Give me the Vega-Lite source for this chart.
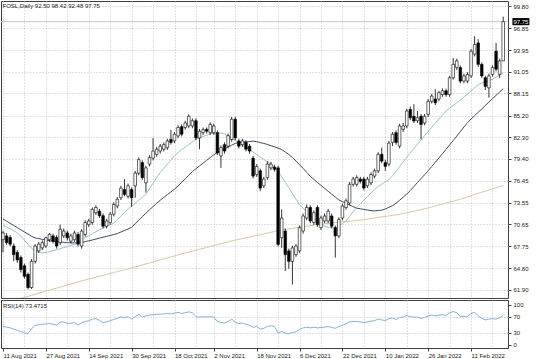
{
"$schema":"https://vega.github.io/schema/vega-lite/v6.json",
"padding":0,"spacing":0,"background":"white",
"config":{"font":"Liberation Sans","view":{"stroke":"#404040","strokeWidth":1},
"axis":{"labelFont":"Liberation Sans","labelFontSize":6,"labelColor":"#202020","tickColor":"#404040","tickSize":3,"gridColor":"#c4c4c4","gridDash":[1,2],"domain":false},
"title":{"font":"Liberation Sans","fontSize":6,"fontWeight":"normal","color":"#202020"}},
"datasets":{
"bid":[{"d":"24 Feb 2022","p":97.75,"lbl":"97.75"}],
"bars":[
{"d":"11 Aug 2021","o":68.6,"h":69.75,"l":66.9,"c":69.5,"t":70.55,"m":71.37,"b":60.12,"r":46},
{"d":"12 Aug 2021","o":69.1,"h":69.5,"l":67.9,"c":68.2,"t":70.29,"m":71.08,"b":60.25,"r":44},
{"d":"13 Aug 2021","o":68.9,"h":69.2,"l":67.7,"c":68.0,"t":70.04,"m":70.79,"b":60.37,"r":42},
{"d":"16 Aug 2021","o":67.75,"h":68.1,"l":65.7,"c":66.6,"t":69.79,"m":70.5,"b":60.5,"r":39},
{"d":"17 Aug 2021","o":66.9,"h":67.2,"l":65.5,"c":65.9,"t":69.53,"m":70.21,"b":60.63,"r":36},
{"d":"18 Aug 2021","o":66.2,"h":66.5,"l":64.2,"c":64.6,"t":69.05,"m":69.92,"b":60.76,"r":33},
{"d":"19 Aug 2021","o":65.1,"h":65.4,"l":63.4,"c":63.7,"t":68.52,"m":69.64,"b":60.88,"r":30},
{"d":"20 Aug 2021","o":63.96,"h":64.2,"l":61.95,"c":62.2,"t":67.98,"m":69.35,"b":61.02,"r":27.5},
{"d":"23 Aug 2021","o":62.2,"h":66.0,"l":62.0,"c":65.7,"t":67.44,"m":69.05,"b":61.16,"r":40},
{"d":"24 Aug 2021","o":65.7,"h":68.0,"l":65.4,"c":67.75,"t":67.05,"m":68.83,"b":61.3,"r":48},
{"d":"25 Aug 2021","o":67.1,"h":68.3,"l":66.8,"c":68.0,"t":66.95,"m":68.74,"b":61.43,"r":50},
{"d":"26 Aug 2021","o":67.5,"h":68.5,"l":67.2,"c":68.2,"t":66.86,"m":68.64,"b":61.57,"r":51},
{"d":"27 Aug 2021","o":67.75,"h":69.0,"l":67.5,"c":68.85,"t":66.88,"m":68.55,"b":61.71,"r":52},
{"d":"30 Aug 2021","o":68.6,"h":69.5,"l":68.3,"c":69.3,"t":67.0,"m":68.45,"b":61.85,"r":53},
{"d":"31 Aug 2021","o":69.1,"h":69.4,"l":68.1,"c":68.4,"t":67.13,"m":68.38,"b":61.99,"r":51},
{"d":"1 Sep 2021","o":68.9,"h":69.2,"l":67.4,"c":67.75,"t":67.26,"m":68.34,"b":62.12,"r":49},
{"d":"2 Sep 2021","o":68.2,"h":70.6,"l":67.9,"c":70.0,"t":67.39,"m":68.29,"b":62.26,"r":56},
{"d":"3 Sep 2021","o":69.1,"h":70.1,"l":68.8,"c":69.75,"t":67.54,"m":68.24,"b":62.4,"r":57},
{"d":"6 Sep 2021","o":69.5,"h":69.8,"l":68.5,"c":68.85,"t":67.68,"m":68.2,"b":62.54,"r":53},
{"d":"7 Sep 2021","o":68.4,"h":69.4,"l":68.1,"c":69.1,"t":67.83,"m":68.18,"b":62.67,"r":54},
{"d":"8 Sep 2021","o":68.6,"h":69.8,"l":68.3,"c":69.5,"t":67.99,"m":68.16,"b":62.81,"r":55},
{"d":"9 Sep 2021","o":69.3,"h":69.6,"l":67.7,"c":68.0,"t":68.15,"m":68.15,"b":62.95,"r":49},
{"d":"10 Sep 2021","o":67.75,"h":70.0,"l":67.4,"c":69.75,"t":68.55,"m":68.24,"b":63.08,"r":55},
{"d":"13 Sep 2021","o":69.3,"h":71.2,"l":69.0,"c":70.9,"t":68.9,"m":68.33,"b":63.21,"r":58},
{"d":"14 Sep 2021","o":70.6,"h":71.4,"l":70.3,"c":71.1,"t":69.15,"m":68.44,"b":63.33,"r":60},
{"d":"15 Sep 2021","o":70.9,"h":72.9,"l":70.6,"c":72.65,"t":69.4,"m":68.56,"b":63.45,"r":64},
{"d":"16 Sep 2021","o":72.2,"h":73.2,"l":71.9,"c":72.9,"t":69.66,"m":68.68,"b":63.58,"r":65},
{"d":"17 Sep 2021","o":72.4,"h":72.7,"l":71.5,"c":71.8,"t":69.91,"m":68.81,"b":63.7,"r":61},
{"d":"20 Sep 2021","o":71.8,"h":72.1,"l":70.1,"c":70.4,"t":70.14,"m":68.93,"b":63.82,"r":55},
{"d":"21 Sep 2021","o":70.4,"h":71.4,"l":70.1,"c":71.1,"t":70.36,"m":69.04,"b":63.95,"r":57},
{"d":"22 Sep 2021","o":70.9,"h":72.3,"l":70.6,"c":72.0,"t":70.59,"m":69.16,"b":64.07,"r":60},
{"d":"23 Sep 2021","o":72.0,"h":73.6,"l":71.7,"c":73.3,"t":70.81,"m":69.28,"b":64.2,"r":63},
{"d":"24 Sep 2021","o":73.1,"h":74.3,"l":72.8,"c":74.0,"t":71.26,"m":69.42,"b":64.32,"r":66},
{"d":"27 Sep 2021","o":74.2,"h":75.8,"l":73.9,"c":75.5,"t":71.74,"m":69.62,"b":64.45,"r":70},
{"d":"28 Sep 2021","o":75.3,"h":76.7,"l":74.4,"c":74.65,"t":72.23,"m":69.82,"b":64.57,"r":67},
{"d":"29 Sep 2021","o":74.4,"h":76.1,"l":74.1,"c":75.8,"t":72.67,"m":70.02,"b":64.7,"r":70},
{"d":"30 Sep 2021","o":75.3,"h":75.6,"l":73.0,"c":74.2,"t":73.07,"m":70.27,"b":64.82,"r":64},
{"d":"1 Oct 2021","o":75.8,"h":77.8,"l":74.2,"c":77.5,"t":73.47,"m":70.74,"b":64.96,"r":70},
{"d":"4 Oct 2021","o":77.5,"h":79.6,"l":77.2,"c":79.3,"t":73.88,"m":71.21,"b":65.09,"r":76},
{"d":"5 Oct 2021","o":78.9,"h":79.2,"l":76.6,"c":76.9,"t":74.28,"m":71.67,"b":65.22,"r":69},
{"d":"6 Oct 2021","o":76.2,"h":78.5,"l":74.9,"c":78.2,"t":74.69,"m":72.15,"b":65.36,"r":72},
{"d":"7 Oct 2021","o":78.7,"h":79.9,"l":78.4,"c":79.6,"t":75.42,"m":72.59,"b":65.49,"r":74},
{"d":"8 Oct 2021","o":79.5,"h":82.2,"l":79.2,"c":80.45,"t":76.16,"m":73.03,"b":65.63,"r":75},
{"d":"11 Oct 2021","o":80.0,"h":81.0,"l":79.7,"c":80.7,"t":76.88,"m":73.46,"b":65.76,"r":76},
{"d":"12 Oct 2021","o":80.45,"h":81.4,"l":80.1,"c":81.1,"t":77.56,"m":73.88,"b":65.89,"r":76},
{"d":"13 Oct 2021","o":80.7,"h":81.6,"l":80.4,"c":81.3,"t":78.13,"m":74.25,"b":66.03,"r":77},
{"d":"14 Oct 2021","o":80.9,"h":82.1,"l":80.6,"c":81.8,"t":78.7,"m":74.62,"b":66.16,"r":78},
{"d":"15 Oct 2021","o":82.0,"h":83.3,"l":81.3,"c":81.6,"t":79.25,"m":74.98,"b":66.29,"r":77},
{"d":"18 Oct 2021","o":81.8,"h":83.0,"l":81.5,"c":82.7,"t":79.81,"m":75.35,"b":66.43,"r":79},
{"d":"19 Oct 2021","o":82.46,"h":83.9,"l":82.2,"c":83.6,"t":80.26,"m":75.78,"b":66.56,"r":81},
{"d":"20 Oct 2021","o":83.7,"h":84.0,"l":82.4,"c":82.7,"t":80.62,"m":76.26,"b":66.69,"r":78},
{"d":"21 Oct 2021","o":83.6,"h":84.5,"l":83.3,"c":84.2,"t":80.97,"m":76.73,"b":66.82,"r":80},
{"d":"22 Oct 2021","o":83.8,"h":85.35,"l":83.5,"c":85.1,"t":81.33,"m":77.21,"b":66.94,"r":82},
{"d":"25 Oct 2021","o":83.8,"h":84.8,"l":83.5,"c":84.5,"t":81.69,"m":77.7,"b":67.07,"r":80},
{"d":"26 Oct 2021","o":84.5,"h":84.8,"l":81.9,"c":82.2,"t":82.04,"m":78.08,"b":67.19,"r":70},
{"d":"27 Oct 2021","o":82.2,"h":83.4,"l":80.7,"c":83.1,"t":82.22,"m":78.46,"b":67.32,"r":69},
{"d":"28 Oct 2021","o":82.9,"h":83.6,"l":82.6,"c":83.3,"t":82.39,"m":78.83,"b":67.44,"r":70},
{"d":"29 Oct 2021","o":83.35,"h":83.6,"l":82.8,"c":83.1,"t":82.56,"m":79.21,"b":67.57,"r":69},
{"d":"1 Nov 2021","o":82.9,"h":84.3,"l":82.6,"c":84.0,"t":82.73,"m":79.58,"b":67.69,"r":70},
{"d":"2 Nov 2021","o":82.9,"h":84.1,"l":82.6,"c":83.8,"t":82.86,"m":79.95,"b":67.82,"r":69},
{"d":"3 Nov 2021","o":82.9,"h":83.2,"l":79.9,"c":80.2,"t":82.86,"m":80.27,"b":67.94,"r":58},
{"d":"4 Nov 2021","o":79.8,"h":81.2,"l":78.2,"c":80.9,"t":82.86,"m":80.51,"b":68.06,"r":56},
{"d":"5 Nov 2021","o":81.3,"h":81.6,"l":80.1,"c":80.45,"t":82.74,"m":80.75,"b":68.19,"r":54},
{"d":"8 Nov 2021","o":81.1,"h":82.8,"l":80.8,"c":82.5,"t":82.44,"m":80.99,"b":68.31,"r":58},
{"d":"9 Nov 2021","o":82.0,"h":85.0,"l":81.7,"c":84.7,"t":82.15,"m":81.23,"b":68.43,"r":64},
{"d":"10 Nov 2021","o":84.7,"h":85.0,"l":81.9,"c":82.2,"t":81.86,"m":81.47,"b":68.53,"r":56},
{"d":"11 Nov 2021","o":81.8,"h":82.1,"l":80.8,"c":81.1,"t":81.55,"m":81.56,"b":68.64,"r":53},
{"d":"12 Nov 2021","o":81.3,"h":82.1,"l":81.0,"c":81.8,"t":81.23,"m":81.62,"b":68.74,"r":54},
{"d":"15 Nov 2021","o":81.6,"h":81.9,"l":80.4,"c":80.7,"t":80.92,"m":81.67,"b":68.85,"r":51},
{"d":"16 Nov 2021","o":81.1,"h":81.4,"l":80.1,"c":80.45,"t":80.61,"m":81.72,"b":68.95,"r":49},
{"d":"17 Nov 2021","o":79.5,"h":79.8,"l":76.8,"c":77.1,"t":80.3,"m":81.77,"b":69.06,"r":43},
{"d":"18 Nov 2021","o":77.3,"h":78.7,"l":77.0,"c":78.4,"t":79.98,"m":81.7,"b":69.16,"r":46},
{"d":"19 Nov 2021","o":77.8,"h":78.1,"l":75.1,"c":75.5,"t":79.65,"m":81.58,"b":69.27,"r":39},
{"d":"22 Nov 2021","o":75.8,"h":77.0,"l":75.5,"c":76.7,"t":79.32,"m":81.46,"b":69.37,"r":41},
{"d":"23 Nov 2021","o":76.9,"h":79.1,"l":76.6,"c":78.7,"t":78.98,"m":81.33,"b":69.48,"r":46},
{"d":"24 Nov 2021","o":78.2,"h":79.0,"l":77.9,"c":78.7,"t":78.65,"m":81.17,"b":69.59,"r":47},
{"d":"25 Nov 2021","o":78.3,"h":78.6,"l":77.7,"c":78.0,"t":78.31,"m":81.01,"b":69.69,"r":46},
{"d":"26 Nov 2021","o":78.2,"h":78.5,"l":67.7,"c":67.97,"t":77.75,"m":80.85,"b":69.8,"r":29},
{"d":"29 Nov 2021","o":68.85,"h":72.65,"l":67.5,"c":71.5,"t":77.01,"m":80.65,"b":69.89,"r":33},
{"d":"30 Nov 2021","o":69.75,"h":70.1,"l":64.4,"c":66.6,"t":76.26,"m":80.32,"b":69.97,"r":29},
{"d":"1 Dec 2021","o":67.1,"h":67.4,"l":64.7,"c":65.7,"t":75.54,"m":79.99,"b":70.04,"r":27},
{"d":"2 Dec 2021","o":65.7,"h":67.8,"l":62.6,"c":67.5,"t":74.77,"m":79.59,"b":70.11,"r":31},
{"d":"3 Dec 2021","o":66.6,"h":68.0,"l":66.3,"c":67.75,"t":74.01,"m":79.11,"b":70.18,"r":32},
{"d":"6 Dec 2021","o":67.1,"h":70.5,"l":66.8,"c":70.2,"t":73.28,"m":78.63,"b":70.26,"r":38},
{"d":"7 Dec 2021","o":69.75,"h":72.1,"l":69.4,"c":71.76,"t":72.81,"m":78.13,"b":70.33,"r":42},
{"d":"8 Dec 2021","o":71.5,"h":73.3,"l":71.2,"c":72.9,"t":72.33,"m":77.6,"b":70.4,"r":44},
{"d":"9 Dec 2021","o":72.9,"h":73.2,"l":70.8,"c":71.1,"t":71.85,"m":77.07,"b":70.47,"r":42},
{"d":"10 Dec 2021","o":70.9,"h":72.5,"l":70.6,"c":72.2,"t":71.42,"m":76.66,"b":70.54,"r":44},
{"d":"13 Dec 2021","o":72.9,"h":73.2,"l":70.3,"c":70.6,"t":71.08,"m":76.26,"b":70.62,"r":42},
{"d":"14 Dec 2021","o":70.2,"h":71.8,"l":69.9,"c":71.5,"t":70.75,"m":75.85,"b":70.69,"r":43},
{"d":"15 Dec 2021","o":71.1,"h":72.1,"l":70.8,"c":71.76,"t":70.42,"m":75.46,"b":70.74,"r":44},
{"d":"16 Dec 2021","o":71.1,"h":72.7,"l":70.8,"c":72.4,"t":70.26,"m":75.07,"b":70.78,"r":46},
{"d":"17 Dec 2021","o":71.76,"h":72.1,"l":70.1,"c":70.4,"t":70.21,"m":74.69,"b":70.83,"r":43},
{"d":"20 Dec 2021","o":70.2,"h":70.5,"l":66.2,"c":69.1,"t":70.16,"m":74.3,"b":70.88,"r":41},
{"d":"21 Dec 2021","o":69.1,"h":71.6,"l":68.8,"c":71.3,"t":70.42,"m":73.91,"b":70.93,"r":45},
{"d":"22 Dec 2021","o":71.5,"h":73.4,"l":71.2,"c":73.1,"t":70.75,"m":73.69,"b":70.97,"r":49},
{"d":"23 Dec 2021","o":72.9,"h":74.1,"l":72.6,"c":73.8,"t":71.09,"m":73.46,"b":71.02,"r":52},
{"d":"27 Dec 2021","o":73.5,"h":76.3,"l":73.2,"c":76.0,"t":71.72,"m":73.23,"b":71.07,"r":57},
{"d":"28 Dec 2021","o":76.0,"h":77.0,"l":75.7,"c":76.7,"t":72.34,"m":73.01,"b":71.12,"r":58},
{"d":"29 Dec 2021","o":76.0,"h":77.2,"l":75.7,"c":76.9,"t":72.92,"m":72.81,"b":71.16,"r":58},
{"d":"30 Dec 2021","o":76.7,"h":77.0,"l":76.1,"c":76.4,"t":73.41,"m":72.73,"b":71.21,"r":57},
{"d":"31 Dec 2021","o":76.7,"h":77.0,"l":75.2,"c":75.5,"t":73.89,"m":72.64,"b":71.28,"r":55},
{"d":"3 Jan 2022","o":75.8,"h":77.0,"l":75.5,"c":76.7,"t":74.37,"m":72.56,"b":71.35,"r":57},
{"d":"4 Jan 2022","o":76.2,"h":77.6,"l":75.9,"c":77.3,"t":74.84,"m":72.48,"b":71.42,"r":59},
{"d":"5 Jan 2022","o":77.1,"h":78.1,"l":76.8,"c":77.8,"t":75.31,"m":72.45,"b":71.49,"r":60},
{"d":"6 Jan 2022","o":77.8,"h":80.3,"l":77.5,"c":80.0,"t":75.7,"m":72.5,"b":71.56,"r":64},
{"d":"7 Jan 2022","o":80.0,"h":80.9,"l":78.8,"c":79.1,"t":76.02,"m":72.54,"b":71.64,"r":62},
{"d":"10 Jan 2022","o":78.9,"h":79.3,"l":77.8,"c":78.4,"t":76.33,"m":72.7,"b":71.71,"r":60},
{"d":"11 Jan 2022","o":78.7,"h":81.8,"l":78.4,"c":81.5,"t":76.65,"m":72.92,"b":71.78,"r":65},
{"d":"12 Jan 2022","o":81.6,"h":83.0,"l":81.1,"c":82.7,"t":77.11,"m":73.14,"b":71.85,"r":67},
{"d":"13 Jan 2022","o":82.9,"h":83.2,"l":81.3,"c":81.6,"t":77.73,"m":73.46,"b":71.92,"r":63},
{"d":"14 Jan 2022","o":81.1,"h":84.1,"l":80.8,"c":83.8,"t":78.37,"m":73.87,"b":71.99,"r":68},
{"d":"17 Jan 2022","o":83.35,"h":84.2,"l":83.0,"c":83.8,"t":79.01,"m":74.28,"b":72.09,"r":69},
{"d":"18 Jan 2022","o":83.8,"h":86.1,"l":83.5,"c":85.8,"t":79.64,"m":74.69,"b":72.19,"r":73},
{"d":"19 Jan 2022","o":86.0,"h":86.4,"l":84.6,"c":84.9,"t":80.2,"m":75.17,"b":72.3,"r":70},
{"d":"20 Jan 2022","o":85.1,"h":86.7,"l":84.2,"c":84.46,"t":80.78,"m":75.7,"b":72.4,"r":69},
{"d":"21 Jan 2022","o":84.5,"h":85.8,"l":84.2,"c":84.9,"t":81.36,"m":76.24,"b":72.51,"r":69},
{"d":"24 Jan 2022","o":85.1,"h":85.4,"l":82.0,"c":84.0,"t":81.93,"m":76.77,"b":72.62,"r":66},
{"d":"25 Jan 2022","o":84.2,"h":85.4,"l":83.9,"c":85.1,"t":82.5,"m":77.28,"b":72.73,"r":68},
{"d":"26 Jan 2022","o":85.35,"h":87.4,"l":85.0,"c":87.1,"t":83.06,"m":77.81,"b":72.84,"r":72},
{"d":"27 Jan 2022","o":87.1,"h":88.1,"l":86.8,"c":87.8,"t":83.62,"m":78.39,"b":72.97,"r":74},
{"d":"28 Jan 2022","o":87.4,"h":88.7,"l":86.6,"c":86.9,"t":84.17,"m":78.96,"b":73.1,"r":72},
{"d":"31 Jan 2022","o":87.4,"h":88.5,"l":87.1,"c":88.25,"t":84.71,"m":79.52,"b":73.23,"r":74},
{"d":"1 Feb 2022","o":88.0,"h":88.8,"l":87.7,"c":88.5,"t":85.26,"m":80.1,"b":73.36,"r":75},
{"d":"2 Feb 2022","o":88.5,"h":88.8,"l":87.7,"c":88.0,"t":85.81,"m":80.68,"b":73.49,"r":73},
{"d":"3 Feb 2022","o":88.0,"h":90.5,"l":87.7,"c":90.25,"t":86.18,"m":81.26,"b":73.62,"r":80},
{"d":"4 Feb 2022","o":90.25,"h":92.9,"l":90.0,"c":92.04,"t":86.54,"m":81.85,"b":73.75,"r":83},
{"d":"7 Feb 2022","o":91.6,"h":92.8,"l":91.3,"c":92.5,"t":86.91,"m":82.45,"b":73.88,"r":80},
{"d":"8 Feb 2022","o":91.6,"h":91.9,"l":89.5,"c":89.8,"t":87.28,"m":83.05,"b":74.01,"r":70},
{"d":"9 Feb 2022","o":89.8,"h":90.8,"l":89.5,"c":90.5,"t":87.66,"m":83.66,"b":74.16,"r":71},
{"d":"10 Feb 2022","o":89.8,"h":91.0,"l":89.5,"c":90.7,"t":88.07,"m":84.25,"b":74.31,"r":71},
{"d":"11 Feb 2022","o":90.5,"h":94.1,"l":90.2,"c":93.8,"t":88.49,"m":84.72,"b":74.47,"r":78},
{"d":"14 Feb 2022","o":93.4,"h":95.8,"l":93.1,"c":94.7,"t":88.91,"m":85.18,"b":74.63,"r":81},
{"d":"15 Feb 2022","o":94.9,"h":95.4,"l":91.7,"c":92.04,"t":89.33,"m":85.63,"b":74.78,"r":72},
{"d":"16 Feb 2022","o":92.04,"h":92.3,"l":90.2,"c":90.5,"t":89.54,"m":86.08,"b":74.93,"r":66},
{"d":"17 Feb 2022","o":90.25,"h":90.5,"l":88.6,"c":89.1,"t":89.71,"m":86.54,"b":75.09,"r":62},
{"d":"18 Feb 2022","o":88.9,"h":90.8,"l":87.6,"c":90.5,"t":89.88,"m":87.0,"b":75.25,"r":64},
{"d":"21 Feb 2022","o":90.7,"h":91.9,"l":90.4,"c":91.6,"t":90.06,"m":87.45,"b":75.4,"r":65},
{"d":"22 Feb 2022","o":93.8,"h":94.9,"l":91.1,"c":91.4,"t":90.33,"m":87.89,"b":75.55,"r":64},
{"d":"23 Feb 2022","o":90.7,"h":92.8,"l":90.2,"c":92.5,"t":90.61,"m":88.34,"b":75.71,"r":67},
{"d":"24 Feb 2022","o":92.5,"h":98.42,"l":92.48,"c":97.75,"t":90.88,"m":88.78,"b":75.86,"r":73.47}
]},
"vconcat":[
{"width":507,"height":297,
"title":{"text":"FOSL,Daily  92.50 98.42 92.48 97.75","anchor":"start","offset":-8,"dx":2},
"encoding":{
 "x":{"field":"d","type":"ordinal","sort":null,"scale":{"type":"point","padding":0.95,"align":0.295},
   "axis":{"labels":false,"ticks":false,"domain":false,"grid":true,"title":null,"maxExtent":0,"minExtent":0,
   "values":["11 Aug 2021","19 Aug 2021","27 Aug 2021","6 Sep 2021","14 Sep 2021","22 Sep 2021","30 Sep 2021","8 Oct 2021","18 Oct 2021","26 Oct 2021","2 Nov 2021","10 Nov 2021","18 Nov 2021","26 Nov 2021","6 Dec 2021","14 Dec 2021","22 Dec 2021","31 Dec 2021","10 Jan 2022","18 Jan 2022","26 Jan 2022","3 Feb 2022","11 Feb 2022","21 Feb 2022"]}},
 "y":{"type":"quantitative","scale":{"domain":[60.8,100.51],"nice":false,"zero":false},"title":null,
 "axis":{"orient":"right","values":[61.9,64.8,67.75,70.65,73.55,76.45,79.4,82.3,85.2,88.15,91.05,93.95,96.85,99.8],"format":".2f","grid":true,"labelPadding":2,"minExtent":29,"maxExtent":29,"labelBaseline":"middle"}}},
"layer":[
{"data":{"name":"bid"},"mark":{"type":"rule","color":"#c8c8c8","strokeWidth":1},
 "encoding":{"x":null,"y":{"field":"p"}}},
{"data":{"name":"bars"},"mark":{"type":"line","color":"#d9c6a2","strokeWidth":1,"clip":true},
 "encoding":{"y":{"field":"b"}}},
{"data":{"name":"bars"},"mark":{"type":"line","color":"#3e4868","strokeWidth":1,"clip":true},
 "encoding":{"y":{"field":"m"}}},
{"data":{"name":"bars"},"mark":{"type":"line","color":"#94c6c0","strokeWidth":1,"clip":true},
 "encoding":{"y":{"field":"t"}}},
{"data":{"name":"bars"},"mark":{"type":"rule","color":"#000000","strokeWidth":0.8},
 "encoding":{"y":{"field":"l"},"y2":{"field":"h"}}},
{"data":{"name":"bars"},"mark":{"type":"bar","size":2.6,"stroke":"#000000","strokeWidth":0.6},
 "encoding":{"y":{"field":"o"},"y2":{"field":"c"},
 "fill":{"condition":{"test":"datum.c >= datum.o","value":"#ffffff"},"value":"#000000"}}},
{"data":{"name":"bid"},"mark":{"type":"point","shape":"M-1,-0.42H1V0.42H-1Z","size":289,"filled":true,"color":"#000000","opacity":1,"xOffset":17.7},
 "encoding":{"y":{"field":"p"}}},
{"data":{"name":"bid"},"mark":{"type":"text","color":"#ffffff","fontSize":6,"align":"center","baseline":"middle","xOffset":17.7},
 "encoding":{"y":{"field":"p"},"text":{"field":"lbl"}}}
]},
{"width":507,"height":48,
"title":{"text":"RSI(14) 73.4715","anchor":"start","offset":-9,"dx":2},
"data":{"name":"bars"},
"mark":{"type":"line","color":"#86b2cf","strokeWidth":1},
"encoding":{
"x":{"field":"d","type":"ordinal","sort":null,"scale":{"type":"point","padding":0.95,"align":0.295},
 "axis":{"orient":"bottom","title":null,"grid":true,"labelAngle":0,"labelAlign":"left","labelBaseline":"top","labelPadding":1,"labelFlush":false,"labelOverlap":false,
 "values":["11 Aug 2021","19 Aug 2021","27 Aug 2021","6 Sep 2021","14 Sep 2021","22 Sep 2021","30 Sep 2021","8 Oct 2021","18 Oct 2021","26 Oct 2021","2 Nov 2021","10 Nov 2021","18 Nov 2021","26 Nov 2021","6 Dec 2021","14 Dec 2021","22 Dec 2021","31 Dec 2021","10 Jan 2022","18 Jan 2022","26 Jan 2022","3 Feb 2022","11 Feb 2022","21 Feb 2022"],
 "labelExpr":"indexof(['11 Aug 2021','27 Aug 2021','14 Sep 2021','30 Sep 2021','18 Oct 2021','2 Nov 2021','18 Nov 2021','6 Dec 2021','22 Dec 2021','10 Jan 2022','26 Jan 2022','11 Feb 2022'], datum.value) >= 0 ? datum.value : ''",
 "tickOpacity":{"condition":{"test":"indexof(['11 Aug 2021','27 Aug 2021','14 Sep 2021','30 Sep 2021','18 Oct 2021','2 Nov 2021','18 Nov 2021','6 Dec 2021','22 Dec 2021','10 Jan 2022','26 Jan 2022','11 Feb 2022'], datum.value) >= 0","value":1},"value":0}}},
"y":{"field":"r","type":"quantitative","scale":{"domain":[-8.25,111.75],"nice":false,"zero":false},"title":null,
 "axis":{"orient":"right","values":[0,30,70,100],"grid":true,"labelPadding":2,"minExtent":29,"maxExtent":29,"labelBaseline":"middle",
 "gridOpacity":{"condition":{"test":"datum.value == 30 || datum.value == 70","value":1},"value":0}}}}}
]}
